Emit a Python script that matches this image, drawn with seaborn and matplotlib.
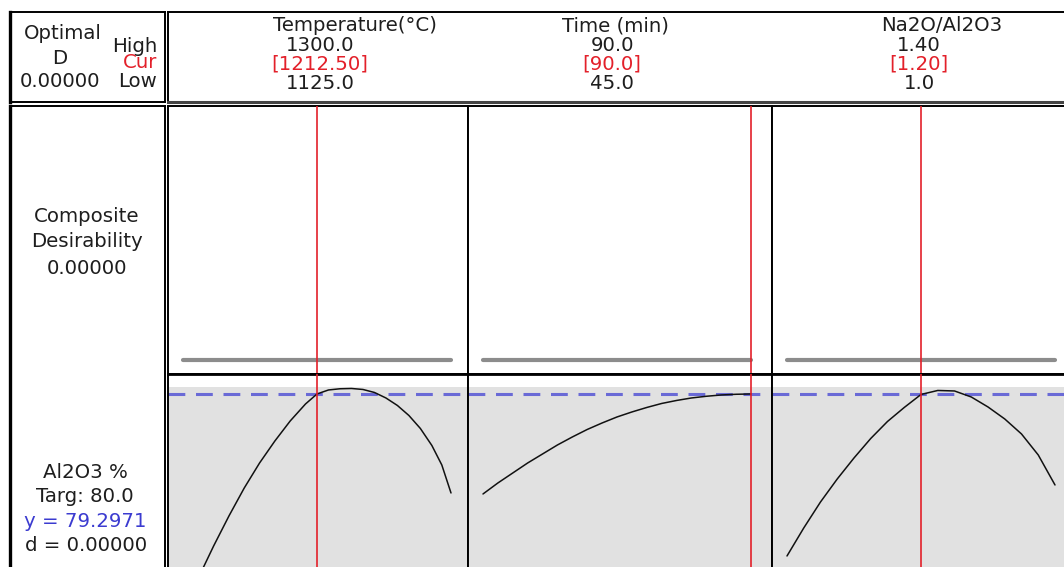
import numpy as np
import pandas as pd
import seaborn as sns
from matplotlib import pyplot as plt

# optimizer header: factor ranges and current settings
factor_names = ["Temperature(°C)", "Time (min)", "Na2O/Al2O3"]
factor_low = [1125.0, 45.0, 1.0]
factor_high = [1300.0, 90.0, 1.40]
factor_cur = [1212.50, 90.0, 1.20]
high_labels = ["1300.0", "90.0", "1.40"]
cur_labels = ["[1212.50]", "[90.0]", "[1.20]"]
low_labels = ["1125.0", "45.0", "1.0"]

# predicted Al2O3 % along each factor
temp_x = [1125, 1135, 1145, 1155, 1165, 1175, 1185, 1195, 1205, 1212.5, 1220, 1227.5,
          1235, 1242.5, 1250, 1257.5, 1265, 1272.5, 1280, 1287.5, 1294, 1300]
temp_y = [57.5, 60.9, 64.1, 67.1, 69.9, 72.4, 74.6, 76.6, 78.3, 79.3, 79.7, 79.82,
          79.85, 79.75, 79.45, 78.9, 78.15, 77.15, 75.85, 74.15, 72.2, 69.4]
time_x = [45, 47.5, 50, 52.5, 55, 57.5, 60, 62.5, 65, 67.5, 70, 72.5, 75, 77.5,
          80, 82.5, 85, 87.5, 90]
time_y = [69.3, 70.4, 71.4, 72.4, 73.3, 74.2, 75.0, 75.75, 76.4, 77.0, 77.5, 77.95,
          78.35, 78.65, 78.9, 79.07, 79.2, 79.27, 79.3]
ratio_x = [1.00, 1.025, 1.05, 1.075, 1.10, 1.125, 1.15, 1.175, 1.20, 1.225, 1.25,
           1.275, 1.30, 1.325, 1.35, 1.375, 1.40]
ratio_y = [63.1, 65.9, 68.5, 70.8, 72.9, 74.85, 76.55, 77.95, 79.25, 79.65, 79.6,
           79.0, 78.0, 76.8, 75.3, 73.2, 70.2]

response_name = "Al2O3 %"
target = 80.0
y_pred = 79.2971
d_single = 0.0
d_composite = 0.0

curves = [(temp_x, temp_y), (time_x, time_y), (ratio_x, ratio_y)]

W, H = 1064, 567
sns.set_style("white")
plt.rcParams['font.family'] = ['DejaVu Sans']
fig = plt.figure(figsize=(W / 100, H / 100), dpi=100)

ink = '#1e1e1e'
red = '#e3202a'
blue = '#3b3bd0'
fs = 14.2


def box(x0, y0, x1, y1):
    return [x0 / W, 1 - y1 / H, (x1 - x0) / W, (y1 - y0) / H]


def put(x, y, s, **kw):
    kw.setdefault('color', ink)
    kw.setdefault('ha', 'center')
    fig.text(x / W, 1 - y / H, s, fontsize=kw.pop('size', fs), va='baseline', **kw)


def frame(ax, lw=1.4, left_lw=None, hide=()):
    ax.set_xticks([])
    ax.set_yticks([])
    for name, sp in ax.spines.items():
        sp.set_visible(name not in hide)
        sp.set_color('black')
        sp.set_linewidth(lw)
    if left_lw:
        ax.spines['left'].set_linewidth(left_lw)


# header boxes
ax_hl = fig.add_axes(box(10, 12, 165, 102))
frame(ax_hl, left_lw=2.4)
ax_hr = fig.add_axes(box(168, 12, 1085, 102))
frame(ax_hr)
ax_hr.spines['bottom'].set_linewidth(2.2)
ax_hr.spines['bottom'].set_color('#444444')

# left label column
ax_lab = fig.add_axes(box(10, 106, 165, 600))
frame(ax_lab, left_lw=2.4, hide=('bottom',))

col_edges = [168, 468, 772, 1076]
top_y0, mid_y, bot_y1 = 106, 374, 567
px_per_unit = 10.0
ylo = y_pred - (bot_y1 - 394) / px_per_unit
yhi = y_pred + (394 - mid_y) / px_per_unit

for i in range(3):
    left, right = col_edges[i], col_edges[i + 1]
    per_px = (factor_high[i] - factor_low[i]) / 268
    xlim = (factor_low[i] - 15 * per_px, factor_low[i] + (right - left - 15) * per_px)

    # composite desirability row
    ax_d = fig.add_axes(box(left, top_y0, right, mid_y))
    frame(ax_d)
    ax_d.spines['bottom'].set_linewidth(2.0)
    sns.lineplot(x=[factor_low[i], factor_high[i]], y=[d_composite, d_composite], ax=ax_d,
                 color='#8c8c8c', linewidth=3.0, legend=False)
    ax_d.axvline(factor_cur[i], color=red, lw=1.2, zorder=5)
    ax_d.set_xlim(xlim)
    ax_d.set_ylim(-0.06, 1.06)
    ax_d.set_xlabel('')
    ax_d.set_ylabel('')

    # response row
    ax_r = fig.add_axes(box(left, mid_y, right, bot_y1))
    frame(ax_r, hide=('bottom',))
    ax_r.spines['top'].set_linewidth(2.0)
    ax_r.axhspan(ylo - 5, target, color='#e1e1e1', lw=0, zorder=0)
    ax_r.axhline(y_pred, color='#6a6ad6', lw=2.2, dashes=(5.5, 3.5), zorder=2)
    sns.lineplot(x=curves[i][0], y=curves[i][1], ax=ax_r, color='#111111',
                 linewidth=1.1, sort=False, legend=False, zorder=3)
    ax_r.axvline(factor_cur[i], color=red, lw=1.2, zorder=5)
    ax_r.set_xlim(xlim)
    ax_r.set_ylim(ylo, yhi)
    ax_r.set_xlabel('')
    ax_r.set_ylabel('')

# header texts
put(63, 39, "Optimal")
put(60, 64, "D")
put(60, 87, f"{d_composite:.5f}")
put(157, 52, "High", ha='right')
put(157, 68, "Cur", ha='right', color=red)
put(157, 87, "Low", ha='right')

title_x = [355, 615, 942]
value_x = [320, 612, 919]
for i in range(3):
    put(title_x[i], 31, factor_names[i])
    put(value_x[i], 51, high_labels[i])
    put(value_x[i], 70, cur_labels[i], color=red)
    put(value_x[i], 89, low_labels[i])

# left column texts
put(87, 222, "Composite")
put(87, 247, "Desirability")
put(87, 274, f"{d_composite:.5f}")
put(85, 478, response_name)
put(85, 502, f"Targ: {target:.1f}")
put(85, 527, f"y = {y_pred:.4f}", color=blue)
put(86, 551, f"d = {d_single:.5f}")

fig.savefig("out.png", dpi=100)
